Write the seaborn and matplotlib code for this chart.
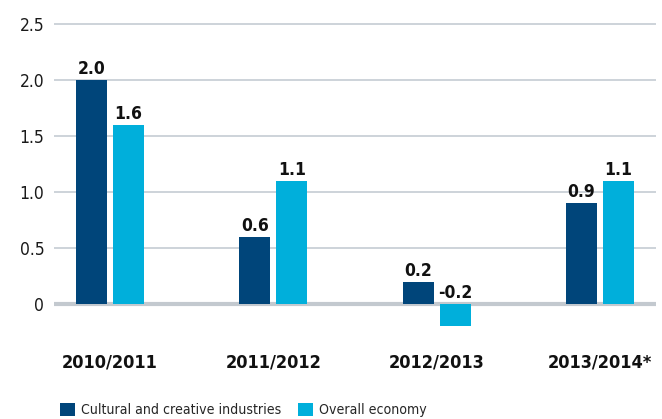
import matplotlib
matplotlib.use("Agg")
import matplotlib.pyplot as plt
import seaborn as sns
import pandas as pd
from matplotlib.patches import Patch

periods = ["2010/2011", "2011/2012", "2012/2013", "2013/2014*"]
cultural = [2.0, 0.6, 0.2, 0.9]
overall = [1.6, 1.1, -0.2, 1.1]
series_names = ["Cultural and creative industries", "Overall economy"]
yticks = [0, 0.5, 1.0, 1.5, 2.0, 2.5]
ytick_labels = ["0", "0.5", "1.0", "1.5", "2.0", "2.5"]

dark = "#00457A"
light = "#00AFDB"

df = pd.DataFrame({
    "period": periods * 2,
    "value": cultural + overall,
    "series": [series_names[0]] * 4 + [series_names[1]] * 4,
})

sns.set_theme(style="white")
plt.rcParams["font.family"] = ["DejaVu Sans"]
FS = dict(family="DejaVu Sans", stretch="condensed")

fig = plt.figure(figsize=(6.62, 4.19), dpi=100)
ax = fig.add_axes([54 / 662, (419 - 332) / 419, 602 / 662, (332 - 18.4) / 419])

sns.barplot(data=df, x="period", y="value", hue="series", order=periods,
            hue_order=series_names, palette=[dark, light], width=0.453,
            gap=0.16, ax=ax, legend=False, saturation=1, linewidth=0, edgecolor="none")

ax.set_xlim(-0.343, 3.343)
ax.set_ylim(-0.25, 2.55)
for sp in ax.spines.values():
    sp.set_visible(False)
for t in yticks[1:]:
    ax.axhline(t, color="#c9d0d7", lw=1.3, zorder=0)
ax.axhline(0, color="#c3c9cf", lw=3, zorder=0.5)
ax.set_yticks(yticks)
ax.set_yticklabels(ytick_labels, fontsize=12.5, **FS, color="#1a1a1a")
ax.tick_params(axis="y", length=0, pad=7)
ax.set_xticks(range(len(periods)))
ax.set_xticklabels(periods, fontsize=13, fontweight="bold", **FS, color="#111111")
ax.tick_params(axis="x", length=0, pad=15.5)
ax.set_xlabel("")
ax.set_ylabel("")
ax.grid(False)

for cont in ax.containers:
    for bar in cont:
        h = bar.get_height()
        y = bar.get_y() + h if h >= 0 else 0
        ax.annotate(f"{h:.1f}", (bar.get_x() + bar.get_width() / 2, max(y, 0)),
                    xytext=(0, 1.5), textcoords="offset points", ha="center", va="bottom",
                    fontsize=12.5, fontweight="bold", color="#111111", **FS)

handles = [Patch(facecolor=dark, edgecolor="none"), Patch(facecolor=light, edgecolor="none")]
fig.legend(handles, series_names, loc="lower left", bbox_to_anchor=(47 / 662, -0.026),
           ncol=2, frameon=False, handlelength=1.07, handleheight=1.07, handletextpad=0.43,
           columnspacing=1.2, prop=dict(size=10.1, **FS))

fig.savefig("out.png", dpi=100)
